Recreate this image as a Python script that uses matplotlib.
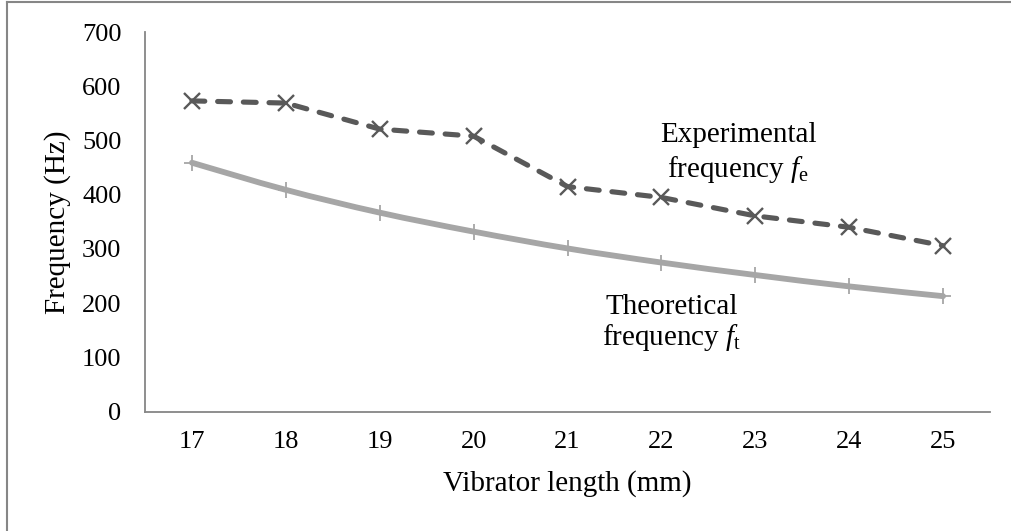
import matplotlib
matplotlib.use("Agg")
import matplotlib.pyplot as plt
from matplotlib.path import Path
from matplotlib.patches import PathPatch
from matplotlib.lines import Line2D
import numpy as np

plt.rcParams['font.family'] = ['Liberation Serif', 'DejaVu Serif']
plt.rcParams['mathtext.fontset'] = 'custom'
plt.rcParams['mathtext.it'] = 'Liberation Serif:italic'
plt.rcParams['mathtext.rm'] = 'Liberation Serif'

lengths = [17, 18, 19, 20, 21, 22, 23, 24, 25]
experimental = [573, 569, 521, 508, 415, 395, 361, 340, 306]
theoretical = [459, 409, 367, 332, 301, 275, 252, 231, 213]
yticks = [0, 100, 200, 300, 400, 500, 600, 700]

W, H = 1011, 531
fig = plt.figure(figsize=(W / 100, H / 100), dpi=100)
ax = fig.add_axes([145 / W, 1 - 411.7 / H, (990 - 145) / W, (411.7 - 32) / H])

x = np.arange(len(lengths))

# smoothed theoretical line (Catmull-Rom -> Bezier)
pts = np.column_stack([x, theoretical]).astype(float)
verts = [tuple(pts[0])]
codes = [Path.MOVETO]
n = len(pts)
for i in range(n - 1):
    p0 = pts[i - 1] if i > 0 else pts[i]
    p1 = pts[i]
    p2 = pts[i + 1]
    p3 = pts[i + 2] if i + 2 < n else pts[i + 1]
    c1 = p1 + (p2 - p0) / 6.0
    c2 = p2 - (p3 - p1) / 6.0
    verts += [tuple(c1), tuple(c2), tuple(p2)]
    codes += [Path.CURVE4] * 3
ax.add_patch(PathPatch(Path(verts, codes), fill=False, edgecolor='#A6A6A6',
                       lw=4.2, capstyle='round', joinstyle='round', zorder=2))
ax.plot(x, theoretical, linestyle='none', marker='+', ms=12, mew=1.3,
        color='#A6A6A6', zorder=3)

ax.plot(x, experimental, color='#595959', lw=3.7, linestyle=(0, (2.5, 2.5)),
        dash_capstyle='round', marker='x', ms=11, mew=1.7, mec='#595959', zorder=4)

ax.set_xlim(-0.5, len(lengths) - 0.5)
ax.set_ylim(0, 700)
ax.set_xticks(x)
ax.set_xticklabels([str(v) for v in lengths])
ax.set_yticks(yticks)
ax.tick_params(axis='both', length=0, labelsize=19, colors='black')
ax.tick_params(axis='x', pad=14)
ax.tick_params(axis='y', pad=17)
for s in ['top', 'right']:
    ax.spines[s].set_visible(False)
for s in ['left', 'bottom']:
    ax.spines[s].set_color('#868686')
    ax.spines[s].set_linewidth(1.3)

fig.text(567.5 / W, 1 - 484 / H, 'Vibrator length (mm)', fontsize=21,
         ha='center', va='center')
fig.text(58 / W, 1 - 222 / H, 'Frequency (Hz)', fontsize=21, rotation=90,
         ha='center', va='center')

ax.text(5.82, 498, 'Experimental', fontsize=21, ha='center', va='baseline')
ax.text(5.82, 433, r'frequency $f_{\mathrm{e}}$', fontsize=21, ha='center', va='baseline')
ax.text(5.11, 181, 'Theoretical', fontsize=21, ha='center', va='baseline')
ax.text(5.11, 123, r'frequency $f_{\mathrm{t}}$', fontsize=21, ha='center', va='baseline')

# outer chart border (top and left visible)
fig.add_artist(Line2D([7 / W, 1], [1 - 2 / H, 1 - 2 / H], transform=fig.transFigure,
                      color='#868686', lw=1.5))
fig.add_artist(Line2D([7 / W, 7 / W], [0, 1 - 2 / H], transform=fig.transFigure,
                      color='#868686', lw=1.5))

fig.savefig('out.png', dpi=100, facecolor='white')
